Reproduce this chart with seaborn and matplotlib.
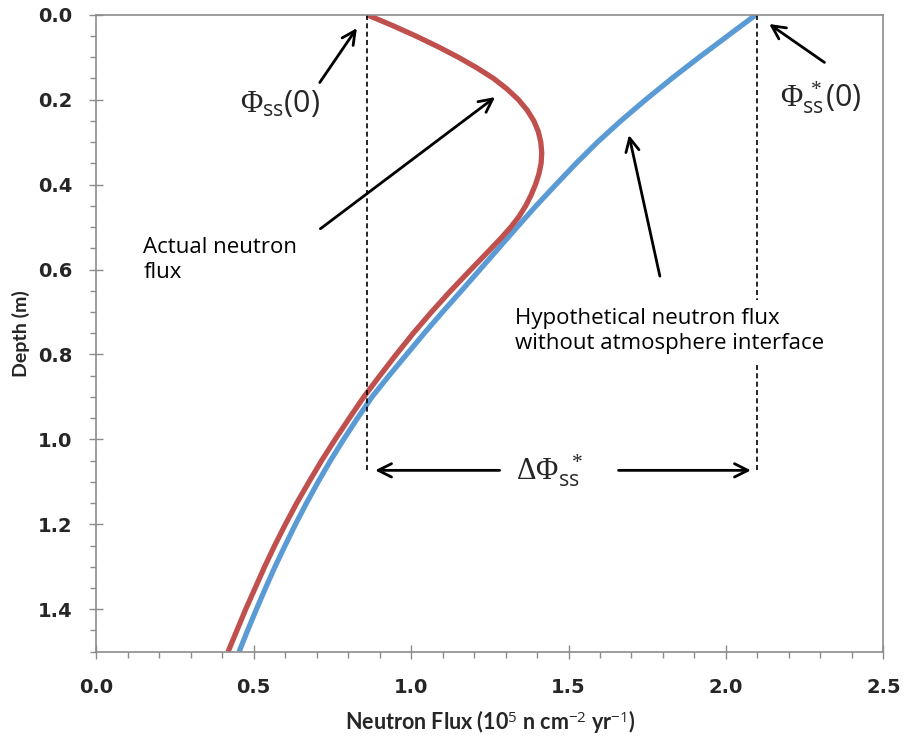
import matplotlib
matplotlib.use("Agg")
import matplotlib.pyplot as plt
import seaborn as sns
import pandas as pd
from matplotlib.ticker import MultipleLocator, FormatStrFormatter

# depth (m) and flux (1e5 n cm-2 yr-1)
depth_actual = [0.00, 0.025, 0.05, 0.075, 0.10, 0.125, 0.15, 0.175, 0.20, 0.225, 0.25,
                0.275, 0.30, 0.325, 0.35, 0.375, 0.40, 0.425, 0.45, 0.475, 0.50, 0.525,
                0.55, 0.60, 0.65, 0.70, 0.75, 0.80, 0.85, 0.90, 0.95, 1.00, 1.05, 1.10,
                1.15, 1.20, 1.25, 1.30, 1.35, 1.40, 1.45, 1.50]
flux_actual = [0.86, 0.94, 1.015, 1.085, 1.15, 1.209, 1.262, 1.305, 1.341, 1.369, 1.390,
               1.404, 1.412, 1.415, 1.413, 1.406, 1.395, 1.381, 1.364, 1.343, 1.317, 1.287,
               1.255, 1.190, 1.126, 1.065, 1.007, 0.953, 0.901, 0.850, 0.804, 0.759, 0.716,
               0.676, 0.637, 0.601, 0.567, 0.535, 0.505, 0.475, 0.447, 0.419]

depth_hypo = [0.00, 0.05, 0.10, 0.15, 0.20, 0.25, 0.30, 0.35, 0.40, 0.45, 0.50,
              0.55, 0.60, 0.65, 0.70, 0.75, 0.80, 0.85, 0.90, 0.95, 1.00, 1.05, 1.10,
              1.15, 1.20, 1.25, 1.30, 1.35, 1.40, 1.45, 1.50]
flux_hypo = [2.095, 2.005, 1.915, 1.828, 1.745, 1.666, 1.592, 1.524, 1.46, 1.397, 1.337,
             1.278, 1.219, 1.16, 1.10, 1.042, 0.986, 0.93, 0.876, 0.830, 0.786, 0.744, 0.705,
             0.668, 0.633, 0.600, 0.568, 0.538, 0.509, 0.481, 0.454]

phi_ss0 = 0.86
phi_ss0_star = 2.10
delta_depth = 1.073

actual_df = pd.DataFrame({"flux": flux_actual, "depth": depth_actual})
hypo_df = pd.DataFrame({"flux": flux_hypo, "depth": depth_hypo})

sns.set_theme(style="white")
plt.rcParams["mathtext.fontset"] = "custom"
plt.rcParams["mathtext.rm"] = "Liberation Serif"
plt.rcParams["mathtext.it"] = "Liberation Serif:italic"
plt.rcParams["mathtext.sf"] = "Open Sans"

fig = plt.figure(figsize=(9.07, 7.38), dpi=100)
ax = fig.add_axes([0.106, 0.117, 0.868, 0.863])

line_kw = dict(sort=False, estimator=None, linewidth=3.8, ax=ax,
               solid_joinstyle="round", solid_capstyle="butt")
sns.lineplot(data=hypo_df, x="flux", y="depth", color="#5B9BD5", **line_kw)
sns.lineplot(data=actual_df, x="flux", y="depth", color="#C0504D", **line_kw)

ax.set_xlim(0, 2.5)
ax.set_ylim(1.5, 0)
ax.xaxis.set_major_locator(MultipleLocator(0.5))
ax.xaxis.set_minor_locator(MultipleLocator(0.1))
ax.yaxis.set_major_locator(MultipleLocator(0.2))
ax.yaxis.set_minor_locator(MultipleLocator(0.05))
ax.xaxis.set_major_formatter(FormatStrFormatter("%.1f"))
ax.yaxis.set_major_formatter(FormatStrFormatter("%.1f"))

for sp in ax.spines.values():
    sp.set_color("#8c8c8c")
    sp.set_linewidth(1.2)
ax.tick_params(which="major", direction="inout", length=10, width=1, color="#8c8c8c",
               labelsize=14, left=True, bottom=True)
ax.tick_params(axis="x", which="major", pad=14)
ax.tick_params(axis="y", which="major", pad=12)
ax.tick_params(which="minor", direction="out", length=4, width=1, color="#8c8c8c",
               left=True, bottom=True)
for lab in ax.get_xticklabels() + ax.get_yticklabels():
    lab.set_fontweight("bold")
    lab.set_family("DejaVu Sans")

ax.set_xlabel(r"Neutron Flux (10$^{\mathsf{5}}$ n cm$^{\mathsf{-2}}$ yr$^{\mathsf{-1}}$)",
              fontsize=15.5, fontweight="bold", family="Lato", labelpad=8)
ax.set_ylabel("Depth (m)", fontsize=14, fontweight="bold", family="Lato", labelpad=6)

# dashed guide lines
ax.plot([phi_ss0, phi_ss0], [0, delta_depth], color="black", lw=1.2, ls=(0, (3, 2)))
ax.plot([phi_ss0_star, phi_ss0_star], [0, delta_depth], color="black", lw=1.2, ls=(0, (3, 2)))

arrow = dict(arrowstyle="->,head_length=0.8,head_width=0.4", color="black", lw=2)
txt_kw = dict(fontsize=16, family="Open Sans", color="black")

ax.annotate("", xy=(0.833, 0.026), xytext=(0.705, 0.165), arrowprops=arrow)
ax.text(0.585, 0.21, r"$\Phi_{\mathsf{ss}}\mathsf{(0)}$", fontsize=22, ha="center", va="center")

ax.annotate("", xy=(1.274, 0.19), xytext=(0.705, 0.508), arrowprops=arrow)
ax.text(0.15, 0.578, "Actual neutron\nflux", ha="left", va="center", linespacing=1.25, **txt_kw)

ax.annotate("", xy=(1.69, 0.277), xytext=(1.792, 0.622), arrowprops=arrow)
ax.text(1.33, 0.745, "Hypothetical neutron flux\nwithout atmosphere interface", ha="left",
        va="center", linespacing=1.25,
        bbox=dict(facecolor="white", edgecolor="none", pad=6), **txt_kw)

ax.annotate("", xy=(2.13, 0.018), xytext=(2.32, 0.116), arrowprops=arrow)
ax.text(2.30, 0.195, r"$\Phi_{\mathsf{ss}}^{\ *}\mathsf{(0)}$", fontsize=22, ha="center", va="center")

ax.annotate("", xy=(0.877, delta_depth), xytext=(1.29, delta_depth), arrowprops=arrow)
ax.annotate("", xy=(2.088, delta_depth), xytext=(1.65, delta_depth), arrowprops=arrow)
ax.text(1.44, delta_depth, r"$\Delta\Phi_{\mathsf{ss}}^{\ \ *}$", fontsize=22, ha="center", va="center")

fig.savefig("out.png", dpi=100)
